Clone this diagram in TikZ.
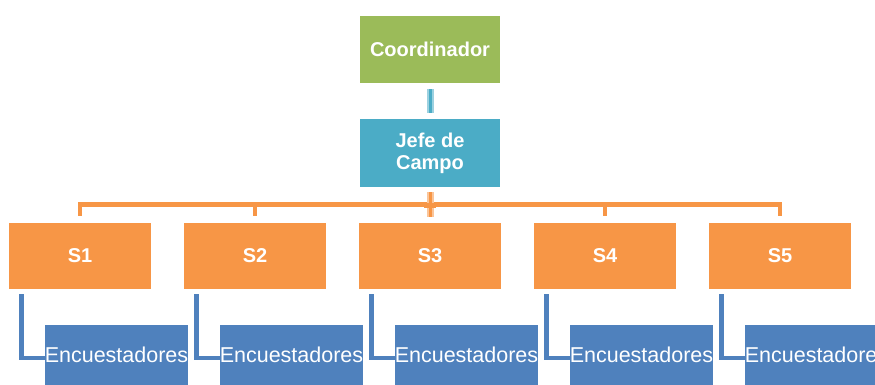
\documentclass[tikz,border=0pt]{standalone}
\usepackage{fontspec}
\setmainfont{Liberation Sans}
\definecolor{cgreen}{HTML}{9BBB59}
\definecolor{cteal}{HTML}{4BACC6}
\definecolor{corange}{HTML}{F79646}
\definecolor{cblue}{HTML}{4F81BD}
\tikzset{
  box/.style={draw=none, inner sep=0pt, minimum width=142pt, text=white},
  topbox/.style={box, minimum width=140pt, minimum height=67pt,
    font=\bfseries\fontsize{20}{22}\selectfont, align=center},
  sbox/.style={box, fill=corange, minimum height=66pt,
    font=\bfseries\fontsize{20}{22}\selectfont},
  ebox/.style={box, fill=cblue, minimum height=60pt,
    font=\fontsize{21.5}{24}\selectfont},
  oline/.style={draw=corange, line width=4.7pt},
  bline/.style={draw=cblue, line width=4.7pt},
}
\begin{document}
\begin{tikzpicture}[x=1pt,y=-1pt]
\useasboundingbox (0,0) rectangle (875,385);
\clip (0,0) rectangle (875,385);
\fill[white] (0,0) rectangle (875,385);
\node[topbox, fill=cgreen] (coord) at (430,49.5) {Coordinador};
\node[topbox, fill=cteal, minimum height=68pt] (jefe) at (430,153) {Jefe de\\Campo};
\foreach \i/\x in {1/80,2/255,3/430,4/605,5/780}{
  \node[sbox] (s\i) at (\x,256) {S\i};
  \node[ebox] (e\i) at (\x+36.5,355) {\raisebox{-2pt}{Encuestadores}};
}
% coordinator to jefe
\draw[cteal!55, line width=7pt] ([yshift=-6pt]coord.south) -- ([yshift=6pt]jefe.north);
\draw[cteal, line width=3pt] ([yshift=-6pt]coord.south) -- ([yshift=6pt]jefe.north);
% jefe to S boxes
\draw[oline] ([yshift=7pt]s1.north) -- ([yshift=18pt]s1.north) -- ([yshift=18pt]s5.north) -- ([yshift=7pt]s5.north);
\foreach \i in {2,3,4}{
  \draw[oline] ([yshift=7pt]s\i.north) -- ([yshift=18pt]s\i.north);
}
\draw[corange!55, line width=7pt] ([yshift=-5pt]jefe.south) -- ([yshift=-30pt]jefe.south);
\draw[corange, line width=3pt] ([yshift=-5pt]jefe.south) -- ([yshift=-30pt]jefe.south);
\draw[oline] ([yshift=-18.5pt]jefe.south) ++(-6,0) -- ++(12,0);
% S boxes to encuestadores
\foreach \i in {1,...,5}{
  \draw[bline] ([xshift=12.5pt,yshift=-5pt]s\i.south west) |- ([yshift=-3pt]e\i.west);
}
\end{tikzpicture}
\end{document}
